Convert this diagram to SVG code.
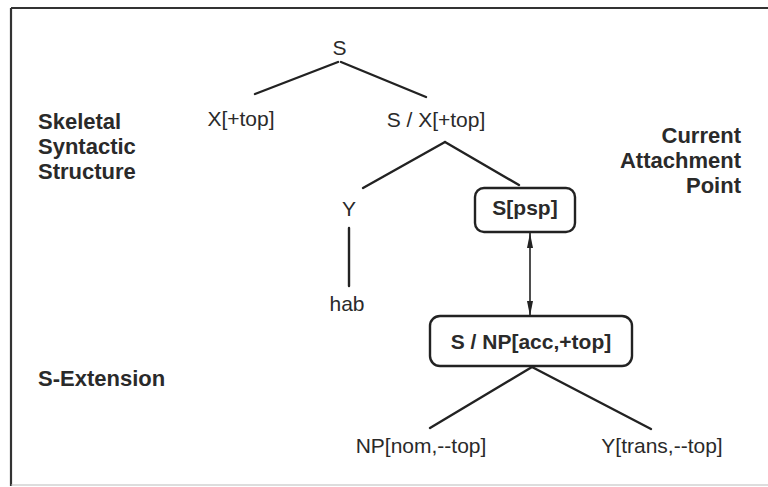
<svg xmlns="http://www.w3.org/2000/svg" width="768" height="487" viewBox="0 0 768 487">
  <style>
    .lbl { font-family: "Liberation Sans", Arial, sans-serif; font-size: 21px; fill: #2a2a2a; }
    .side { font-size: 22px; }
    .tree { text-anchor: middle; }
    .bold { font-weight: bold; }
    .edge { stroke: #222; stroke-width: 2.4; fill: none; stroke-linecap: round; }
    .box { stroke: #222; stroke-width: 2.4; fill: #fff; }
    .frame { stroke: #333; stroke-width: 2.2; fill: none; }
  </style>
  <defs>
    <marker id="tip" viewBox="0 0 15 6" refX="15" refY="3" markerWidth="15" markerHeight="6" markerUnits="userSpaceOnUse" orient="auto-start-reverse">
      <path d="M0,0 L15,3 L0,6 Z" fill="#222"/>
    </marker>
  </defs>
  <rect width="768" height="487" fill="#fff"/>

  <!-- outer frame (open on the right) -->
  <g id="frame">
    <line class="frame" x1="11" y1="8" x2="768" y2="8"/>
    <line class="frame" x1="11" y1="8" x2="11" y2="486"/>
    <line x1="11" y1="485" x2="768" y2="485" stroke="#bbb" stroke-width="1.2"/>
  </g>

  <!-- connectors -->
  <g id="connectors">
    <line class="edge" x1="338" y1="62" x2="255" y2="94"/>
    <line class="edge" x1="341" y1="62" x2="426" y2="97"/>
    <line class="edge" x1="445" y1="142" x2="363" y2="188"/>
    <line class="edge" x1="445" y1="142" x2="519" y2="185"/>
    <line class="edge" x1="349" y1="228" x2="349" y2="286"/>
    <line class="edge" x1="532" y1="367" x2="430" y2="428"/>
    <line class="edge" x1="532" y1="367" x2="651" y2="429"/>
    <line x1="530" y1="233" x2="530" y2="316" stroke="#222" stroke-width="1.6" marker-start="url(#tip)" marker-end="url(#tip)"/>
  </g>

  <!-- side labels -->
  <g id="label-skeletal">
    <text class="lbl side bold" x="38" y="129">Skeletal</text>
    <text class="lbl side bold" x="38" y="154">Syntactic</text>
    <text class="lbl side bold" x="38" y="179">Structure</text>
  </g>
  <g id="label-attachment">
    <text class="lbl side bold" x="741" y="143" text-anchor="end">Current</text>
    <text class="lbl side bold" x="741" y="168" text-anchor="end">Attachment</text>
    <text class="lbl side bold" x="741" y="193" text-anchor="end">Point</text>
  </g>
  <g id="label-extension">
    <text class="lbl side bold" x="38" y="386">S-Extension</text>
  </g>

  <!-- tree nodes -->
  <g id="node-s"><text class="lbl tree" x="339.5" y="55">S</text></g>
  <g id="node-xtop"><text class="lbl tree" x="241" y="126">X[+top]</text></g>
  <g id="node-sx"><text class="lbl tree" x="436" y="127">S / X[+top]</text></g>
  <g id="node-y"><text class="lbl tree" x="349" y="216">Y</text></g>
  <g id="node-hab"><text class="lbl tree" x="347" y="311">hab</text></g>
  <g id="node-spsp">
    <rect class="box" x="475" y="188" width="100" height="44" rx="9"/>
    <text class="lbl bold tree" x="525" y="215">S[psp]</text>
  </g>
  <g id="node-snp">
    <rect class="box" x="430" y="316" width="202" height="50" rx="10"/>
    <text class="lbl bold tree" x="531" y="349">S / NP[acc,+top]</text>
  </g>
  <g id="node-npnom"><text class="lbl tree" x="421" y="453">NP[nom,--top]</text></g>
  <g id="node-ytrans"><text class="lbl tree" x="662" y="453">Y[trans,--top]</text></g>
</svg>
